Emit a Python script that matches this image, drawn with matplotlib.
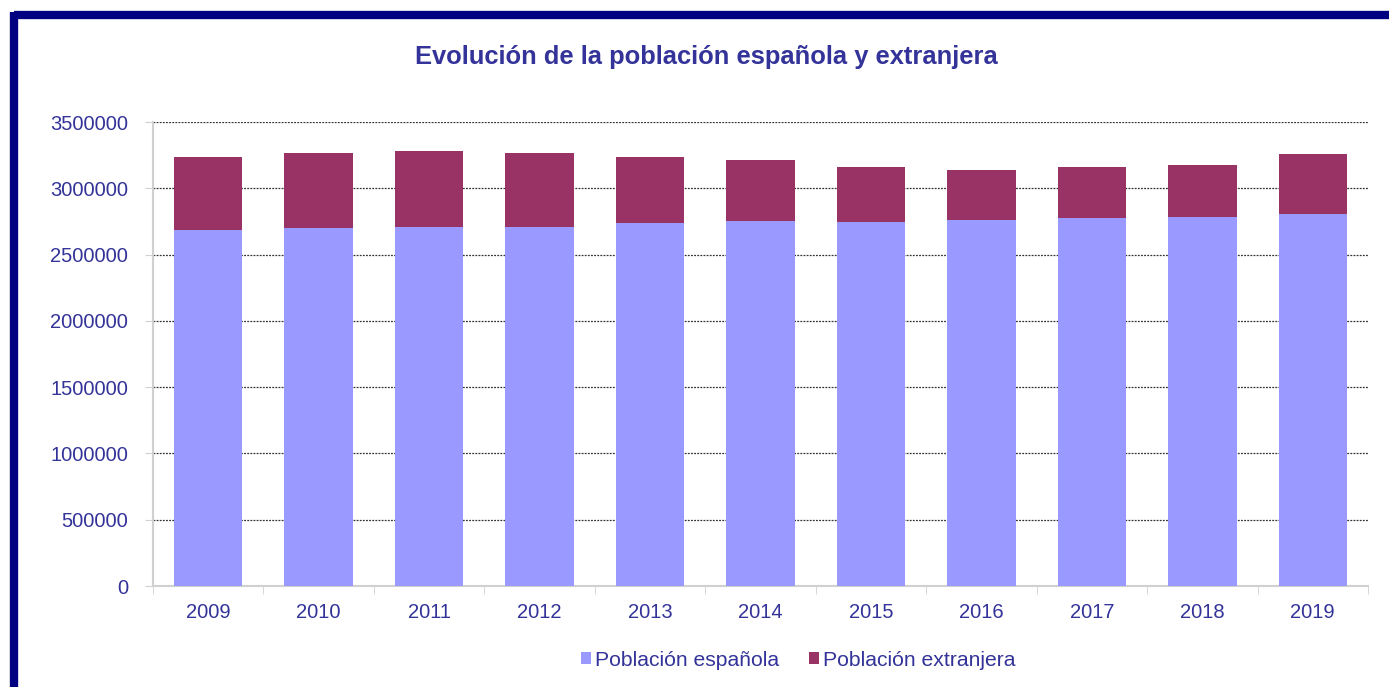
import matplotlib
matplotlib.use("Agg")
import matplotlib.pyplot as plt
from matplotlib.lines import Line2D

years = ["2009", "2010", "2011", "2012", "2013", "2014", "2015", "2016", "2017", "2018", "2019"]
espanola = [2687600, 2698000, 2710500, 2710500, 2738000, 2752000, 2748000, 2758500, 2775900, 2783400, 2803500]
total = [3233700, 3268400, 3279000, 3266200, 3236000, 3212000, 3163000, 3138000, 3160600, 3178000, 3261000]
extranjera = [t - e for t, e in zip(total, espanola)]

plt.rcParams['font.family'] = ['Liberation Sans', 'DejaVu Sans']
TXT = '#333399'
C_ESP = '#9999FF'
C_EXT = '#993366'

fig = plt.figure(figsize=(13.89, 6.87), dpi=100)
fig.patch.set_facecolor('white')

# navy frame (top and left visible)
W, H = 1389, 687
fig.add_artist(Line2D([14/W, 1.02], [1-15/H, 1-15/H], color='#000080', lw=6, transform=fig.transFigure, solid_capstyle='butt'))
fig.add_artist(Line2D([14/W, 14/W], [1-12/H, -0.02], color='#000080', lw=6, transform=fig.transFigure, solid_capstyle='butt'))

ax = fig.add_axes([153/W, 1-586/H, (1368-153)/W, (586-122)/H])
x = list(range(len(years)))
ax.bar(x, espanola, width=0.62, color=C_ESP, label='Población española', zorder=3)
ax.bar(x, extranjera, width=0.62, bottom=espanola, color=C_EXT, label='Población extranjera', zorder=3)

ax.set_xlim(-0.5, len(years) - 0.5)
ax.set_ylim(0, 3500000)
yt = list(range(0, 3500001, 500000))
ax.set_yticks(yt)
ax.set_yticklabels([str(v) for v in yt], fontsize=14.5, color=TXT)
ax.set_xticks(x)
ax.set_xticklabels(years, fontsize=14.5, color=TXT)
ax.tick_params(axis='x', length=0, pad=12)
ax.tick_params(axis='y', length=6, color='#D0D0D0', pad=12)
ax.set_xticks([i - 0.5 for i in range(len(years) + 1)], minor=True)
ax.tick_params(axis='x', which='minor', length=6, color='#D0D0D0')
ax.yaxis.grid(True, linestyle=(0, (1.5, 1)), color='#333333', linewidth=0.9, zorder=0)
for s in ['top', 'right']:
    ax.spines[s].set_visible(False)
for s in ['left', 'bottom']:
    ax.spines[s].set_color('#D0D0D0')
    ax.spines[s].set_linewidth(1.5)

fig.text(706/W, 1-57/H, 'Evolución de la población española y extranjera', ha='center', va='center',
         fontsize=18.4, fontweight='bold', color=TXT)

leg = fig.legend(loc='center', bbox_to_anchor=(798/W, 1-660/H), ncol=2, frameon=False, fontsize=15.2,
                 handlelength=0.48, handleheight=0.48, handletextpad=0.2, columnspacing=1.4)
for t in leg.get_texts():
    t.set_color(TXT)

fig.savefig('out.png', dpi=100, facecolor='white')
